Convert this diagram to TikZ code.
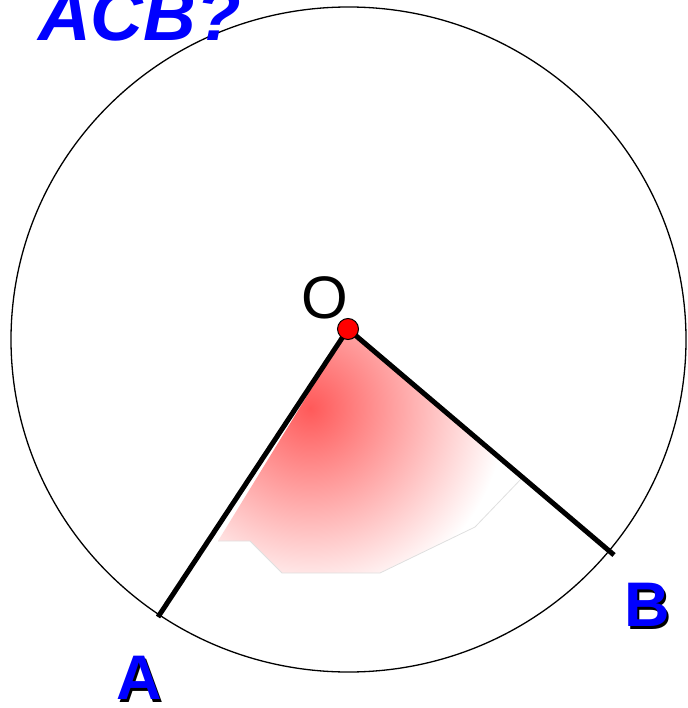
\documentclass[tikz,border=0pt]{standalone}
\usepackage{fontspec}
\setmainfont{Liberation Sans}
\usetikzlibrary{positioning}

\begin{document}
\begin{tikzpicture}[x=1pt,y=-1pt,
      ray/.style={line width=5pt,line cap=butt},
      pt label/.style={inner sep=0pt,text=blue,font=\bfseries\fontsize{63}{63}\selectfont},
      pt shadow/.style={pt label,text=black,xshift=2.5pt,yshift=-2.5pt}]
      \useasboundingbox (0,0) rectangle (687,708);

      % the circle and its centre
      \coordinate (C) at (348.5,339.5);
      \draw[line width=1.3pt] (C) ellipse [x radius=337.5,y radius=332.5];

      \coordinate (O) at (348,329);
      \coordinate (A) at (158,617);
      \coordinate (B) at (614,555);

      % shaded angle
      \begin{scope}
        \clip (O) -- (218,541) -- (250,541) -- (282,573) -- (380,573) -- (475,527) -- (522,478) -- cycle;
        \shade[inner color=red!65,outer color=white] (310,408) circle (195);
      \end{scope}
      \draw[gray!25,line width=0.8pt] (218,541) -- (250,541) -- (282,573) -- (380,573) -- (475,527) -- (522,478);

      \draw[ray] (O) -- (A);
      \draw[ray] (O) -- (B);
      \node[circle,fill=red,draw=black,line width=1pt,minimum size=21pt,inner sep=0pt] (dotO) at (O) {};

      \node[inner sep=0pt,font=\fontsize{60}{60}\selectfont] (labO) [above left=2pt and -8pt of dotO] {O};

      \node[pt shadow] at (139,678) {A};
      \node[pt label] (labA) at (139,678) {A};
      \node[pt shadow] at (647,605) {B};
      \node[pt label] (labB) at (647,605) {B};

      \node[anchor=base west,inner sep=0pt,text=blue,font=\bfseries\itshape\fontsize{73}{73}\selectfont] (title) at (38,41) {ACB?};
    \end{tikzpicture}
\end{document}
